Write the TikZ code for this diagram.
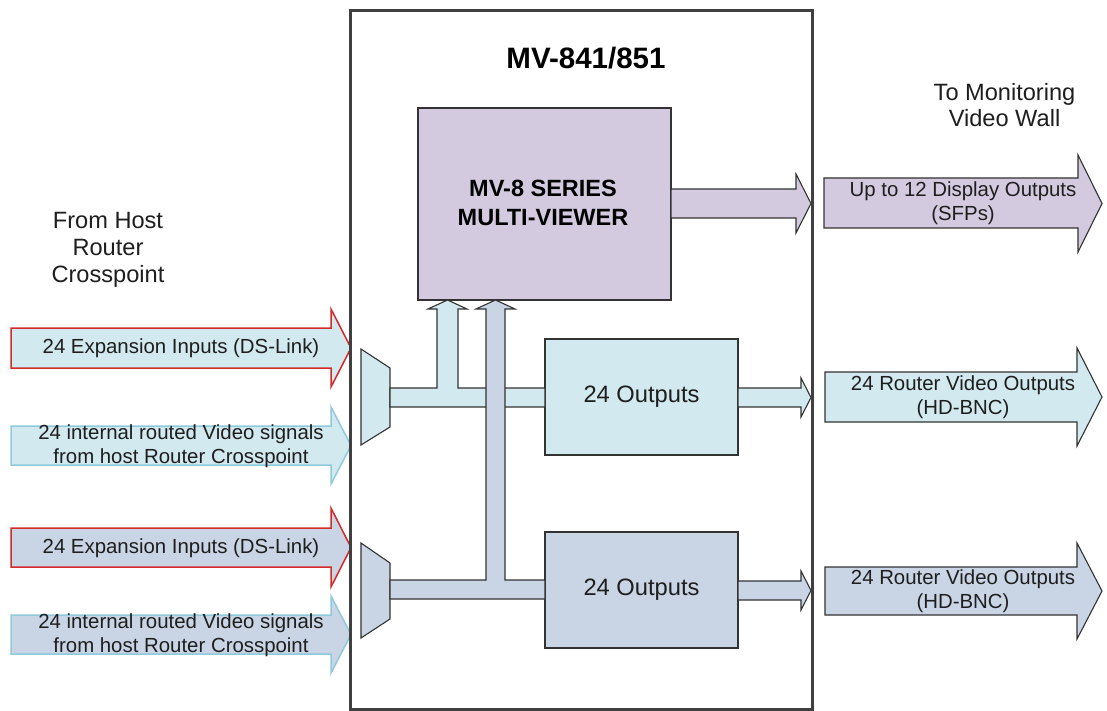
\documentclass[tikz,border=0pt]{standalone}
\usepackage{fontspec}
\setmainfont{Liberation Sans}
\definecolor{lblue}{HTML}{D2E9EF}
\definecolor{gblue}{HTML}{C9D5E5}
\definecolor{lpurp}{HTML}{D3CAE0}
\definecolor{redb}{HTML}{D42A2A}
\definecolor{aquab}{HTML}{8FCADB}
\definecolor{dk}{HTML}{333333}
\definecolor{frame}{HTML}{404040}
\definecolor{txt}{HTML}{1E1E1E}
\newcommand\blkarrow[8]{\filldraw[#1] (#2,#5) -- (#3,#5) -- (#3,#7) -- (#4,{(#7+#8)/2}) -- (#3,#8) -- (#3,#6) -- (#2,#6) -- cycle;}
\tikzset{
  outl/.style={draw=dk, line width=1.1pt, line join=miter},
  inred/.style={draw=redb, line width=1.5pt, line join=miter},
  inaqua/.style={draw=aquab, line width=1.5pt, line join=miter},
  boxnode/.style={outl, inner sep=0pt},
  lbl/.style={font=\fontsize{20.4}{24}\selectfont, text=txt, align=center, inner sep=0pt},
  biglbl/.style={font=\fontsize{23.7}{27}\selectfont, text=txt, align=center, inner sep=0pt},
  boldlbl/.style={font=\bfseries\fontsize{23.5}{29}\selectfont, text=black, align=center, inner sep=0pt},
}
\begin{document}
\begin{tikzpicture}[x=1pt,y=-1pt]
\useasboundingbox (0,0) rectangle (1107,711);
\fill[white] (0,0) rectangle (1107,711);

% side labels
\node[biglbl, font=\fontsize{23.6}{27}\selectfont] (fromhost) at (108,250) {From Host\\Router\\Crosspoint};
\node[biglbl, font=\fontsize{23.6}{26}\selectfont] (tomon) at (1004.5,105) {To Monitoring\\Video Wall};

% input block arrows
\blkarrow{inred,fill=lblue}{11}{331}{351}{328}{368}{309}{387}
\node[lbl] (in1) at (181,348) {24 Expansion Inputs (DS-Link)};
\blkarrow{inaqua,fill=lblue}{11}{331}{351}{426}{465}{407}{484}
\node[lbl] (in2) at (181,446) {24 internal routed Video signals\\from host Router Crosspoint};
\blkarrow{inred,fill=gblue}{11}{331}{351}{528}{567}{508}{587}
\node[lbl] (in3) at (181,548) {24 Expansion Inputs (DS-Link)};
\blkarrow{inaqua,fill=gblue}{11}{331}{351}{615}{654}{596}{673}
\node[lbl] (in4) at (181,635) {24 internal routed Video signals\\from host Router Crosspoint};

% output block arrows
\blkarrow{outl,fill=lpurp}{824}{1078}{1102}{178}{228}{155}{252}
\node[lbl] (out0) at (963,203) {Up to 12 Display Outputs\\(SFPs)};
\blkarrow{outl,fill=lblue}{825}{1077}{1102}{372}{422}{348}{446}
\node[lbl] (out1) at (963,397) {24 Router Video Outputs\\(HD-BNC)};
\blkarrow{outl,fill=gblue}{825}{1077}{1102}{567}{615}{543}{639}
\node[lbl] (out2) at (963,591) {24 Router Video Outputs\\(HD-BNC)};

% internal boxes
\node[boxnode, fill=lpurp, minimum width=253pt, minimum height=192pt] (mv) at (544.5,204) {};
\node[boldlbl] (mvtext) at (543,203) {MV-8 SERIES\\MULTI-VIEWER};
\node[boxnode, fill=lblue, minimum width=193pt, minimum height=116pt] (outA) at (641.5,397) {};
\node[biglbl] (outAtext) at (641.5,397) {24 Outputs};
\node[boxnode, fill=gblue, minimum width=193pt, minimum height=116pt] (outB) at (641.5,590) {};
\node[biglbl] (outBtext) at (641.5,590) {24 Outputs};

% muxes
\filldraw[outl, fill=lblue] (361,349) -- (390,368) -- (390,427) -- (361,445) -- cycle;
\filldraw[outl, fill=gblue] (361,543) -- (390,563) -- (390,619) -- (361,638) -- cycle;

% buses
\filldraw[outl, fill=lblue] (390,388) -- (437,388) -- (437,309) -- (428,309) -- (447.5,300) -- (467,309) -- (458,309) -- (458,388) -- (545,388) -- (545,407) -- (390,407) -- cycle;
\filldraw[outl, fill=gblue] (390,580) -- (486,580) -- (486,309) -- (476,309) -- (495.5,300) -- (515,309) -- (505,309) -- (505,580) -- (545,580) -- (545,599) -- (390,599) -- cycle;

% internal arrows to the wall
\blkarrow{outl,fill=lpurp}{671}{796}{811}{189}{218}{174}{233}
\blkarrow{outl,fill=lblue}{738}{801}{811}{388}{407}{378}{417}
\blkarrow{outl,fill=gblue}{738}{801}{811}{581}{600}{571}{610}

% main frame
\node[draw=frame, line width=3pt, minimum width=462pt, minimum height=698pt, inner sep=0pt] (dev) at (581,360) {};
\node[font=\bfseries\fontsize{29.5}{34}\selectfont, inner sep=0pt] (title) at (586,58) {MV-841/851};
\end{tikzpicture}
\end{document}
